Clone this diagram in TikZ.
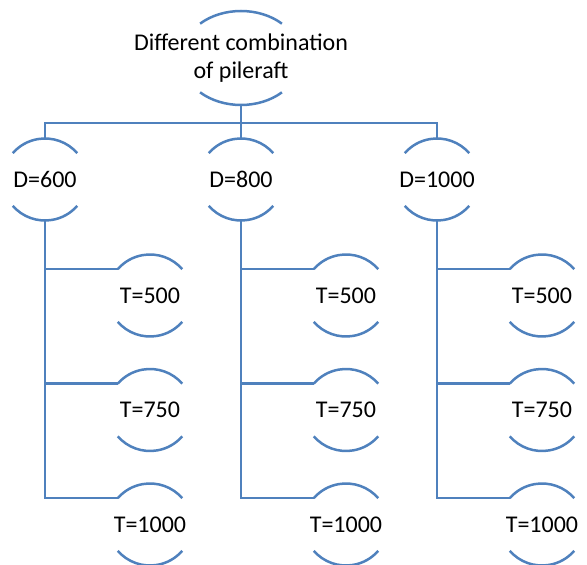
\documentclass[tikz,border=0pt]{standalone}
\usepackage{fontspec}
\setmainfont{Carlito}
\definecolor{linkblue}{HTML}{4F81BD}
\tikzset{
  conn/.style={draw=linkblue, line width=2.5pt},
  lbl/.style={inner sep=0pt, font=\fontsize{24pt}{28pt}\selectfont, text=black, align=center}
}
\begin{document}
\begin{tikzpicture}[x=1pt,y=1pt]
\useasboundingbox (0,0) rectangle (587,565);
% top node
\node[lbl] (top) at (241,507) {Different combination\\of pileraft};
% D nodes
\node[lbl] (d1) at (45,385.5) {D=600};
\node[lbl] (d2) at (241,385.5) {D=800};
\node[lbl] (d3) at (437,385.5) {D=1000};
% T nodes
\foreach \c/\x in {1/150,2/346,3/542}{
  \node[lbl] (t\c1) at (\x,269.5) {T=500};
  \node[lbl] (t\c2) at (\x,155) {T=750};
  \node[lbl] (t\c3) at (\x,40.5) {T=1000};
}
% arcs of the top node
\draw[conn] ([shift={(47:60pt and 47pt)}]top.center) arc[start angle=47,end angle=133,x radius=60pt,y radius=47pt];
\draw[conn] ([shift={(227:60pt and 47pt)}]top.center) arc[start angle=227,end angle=313,x radius=60pt,y radius=47pt];
% arcs of the small nodes
\foreach \n in {d1,d2,d3,t11,t12,t13,t21,t22,t23,t31,t32,t33}{
  \draw[conn] ([shift={(40:42pt and 41pt)}]\n.center) arc[start angle=40,end angle=140,x radius=42pt,y radius=41pt];
  \draw[conn] ([shift={(220:42pt and 41pt)}]\n.center) arc[start angle=220,end angle=320,x radius=42pt,y radius=41pt];
}
% connector coordinates
\coordinate (topb) at ([yshift=-47pt]top.center);
\coordinate (bus) at (241,442);
\foreach \n in {d1,d2,d3}{
  \coordinate (\n n) at ([yshift=41pt]\n.center);
  \coordinate (\n s) at ([yshift=-41pt]\n.center);
}
\foreach \n in {t11,t12,t13,t21,t22,t23,t31,t32,t33}{
  \coordinate (\n w) at ([shift={(140:42pt and 41pt)}]\n.center);
}
% top connectors
\draw[conn] (topb) -- (bus);
\draw[conn] (d1n) -- (d1n |- bus) -- (d3n |- bus) -- (d3n);
\draw[conn] (d2n) -- (d2n |- bus);
% column connectors
\foreach \c in {1,2,3}{
  \draw[conn] (d\c s) |- (t\c3w);
  \draw[conn] (d\c s |- t\c1w) -- (t\c1w);
  \draw[conn] (d\c s |- t\c2w) -- (t\c2w);
}
\end{tikzpicture}
\end{document}
